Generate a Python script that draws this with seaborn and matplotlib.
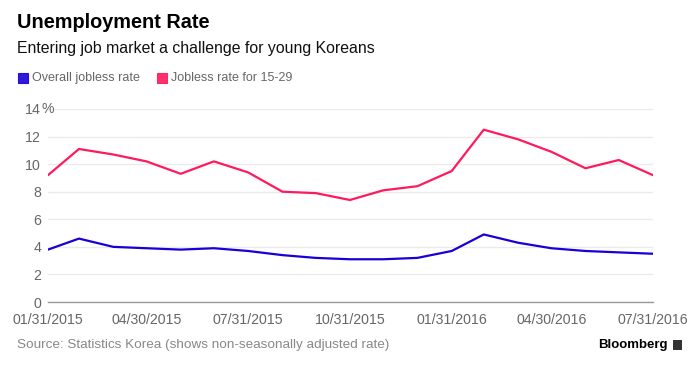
import numpy as np
import pandas as pd
import matplotlib
matplotlib.use("Agg")
import matplotlib.pyplot as plt
import matplotlib.transforms as mtransforms
from matplotlib.patches import Rectangle
import seaborn as sns

# monthly values
months = pd.date_range("2015-01-31", "2016-07-31", freq="ME")
overall = [3.8, 4.6, 4.0, 3.9, 3.8, 3.9, 3.7, 3.4, 3.2, 3.1,
           3.1, 3.2, 3.7, 4.9, 4.3, 3.9, 3.7, 3.6, 3.5]
youth = [9.2, 11.1, 10.7, 10.2, 9.3, 10.2, 9.4, 8.0, 7.9, 7.4,
         8.1, 8.4, 9.5, 12.5, 11.8, 10.9, 9.7, 10.3, 9.2]
series_names = ["Overall jobless rate", "Jobless rate for 15-29"]
colors = ["#1a00d6", "#ff1a5c"]
xtick_labels = ["01/31/2015", "04/30/2015", "07/31/2015", "10/31/2015",
                "01/31/2016", "04/30/2016", "07/31/2016"]
yticks = [0, 2, 4, 6, 8, 10, 12, 14]

df = pd.DataFrame({"date": list(months) * 2,
                   "rate": overall + youth,
                   "series": [series_names[0]] * len(months) + [series_names[1]] * len(months)})

sns.set_style("white")
plt.rcParams["font.family"] = ["Liberation Sans", "DejaVu Sans"]

fig = plt.figure(figsize=(7, 3.7), dpi=100)
ax = fig.add_axes([48 / 700, 68 / 370, 605 / 700, 193 / 370])

sns.lineplot(data=df, x="date", y="rate", hue="series", palette=colors,
             linewidth=1.6, legend=False, ax=ax)

ax.set_xlim(months[0], months[-1])
ax.set_ylim(0, 14)
ax.set_yticks(yticks)
ax.set_yticklabels([str(v) for v in yticks])
tick_dates = pd.to_datetime(xtick_labels, format="%m/%d/%Y")
ax.set_xticks(tick_dates)
ax.set_xticklabels(xtick_labels)
ax.set_xlabel("")
ax.set_ylabel("")

ax.grid(axis="y", color="#ebebeb", linewidth=1)
ax.set_axisbelow(True)
for s in ["left", "right", "top"]:
    ax.spines[s].set_visible(False)
ax.spines["bottom"].set_color("#999999")
ax.spines["bottom"].set_linewidth(1)
ax.tick_params(axis="x", direction="out", length=5, width=1, color="#999999",
               labelsize=10.2, labelcolor="#666666", pad=3)
ax.tick_params(axis="y", length=0, labelsize=10.2, labelcolor="#666666", pad=5)

# percent sign hanging after the top label
trans = mtransforms.blended_transform_factory(fig.transFigure, ax.transData)
fig.text(41.5 / 700, 14, "%", transform=trans, ha="left", va="center",
         fontsize=10.2, color="#666666")

# titles
fig.text(17 / 700, 1 - 23 / 370, "Unemployment Rate", fontsize=14.3,
         fontweight="bold", color="#000000", va="center", ha="left")
fig.text(17 / 700, 1 - 48 / 370, "Entering job market a challenge for young Koreans",
         fontsize=11.4, color="#111111", va="center", ha="left")

# legend
leg_x = [18, 157]
for name, c, lx in zip(series_names, colors, leg_x):
    fig.patches.append(Rectangle((lx / 700, 1 - 83 / 370), 10 / 700, 10 / 370,
                                 transform=fig.transFigure, facecolor=c,
                                 edgecolor=c, alpha=0.9, linewidth=0.8))
    fig.text((lx + 14) / 700, 1 - 78 / 370, name, fontsize=9, color="#666666",
             va="center", ha="left")

# footer
fig.text(17 / 700, 1 - 345 / 370, "Source: Statistics Korea (shows non-seasonally adjusted rate)",
         fontsize=9.7, color="#888888", va="center", ha="left")
fig.text(668 / 700, 1 - 345 / 370, "Bloomberg", fontsize=9.5, fontweight="bold",
         color="#000000", va="center", ha="right")
fig.patches.append(Rectangle((673 / 700, 1 - 350 / 370), 9 / 700, 10 / 370,
                             transform=fig.transFigure, facecolor="#333333",
                             edgecolor="none"))

fig.savefig("out.png", dpi=100)
